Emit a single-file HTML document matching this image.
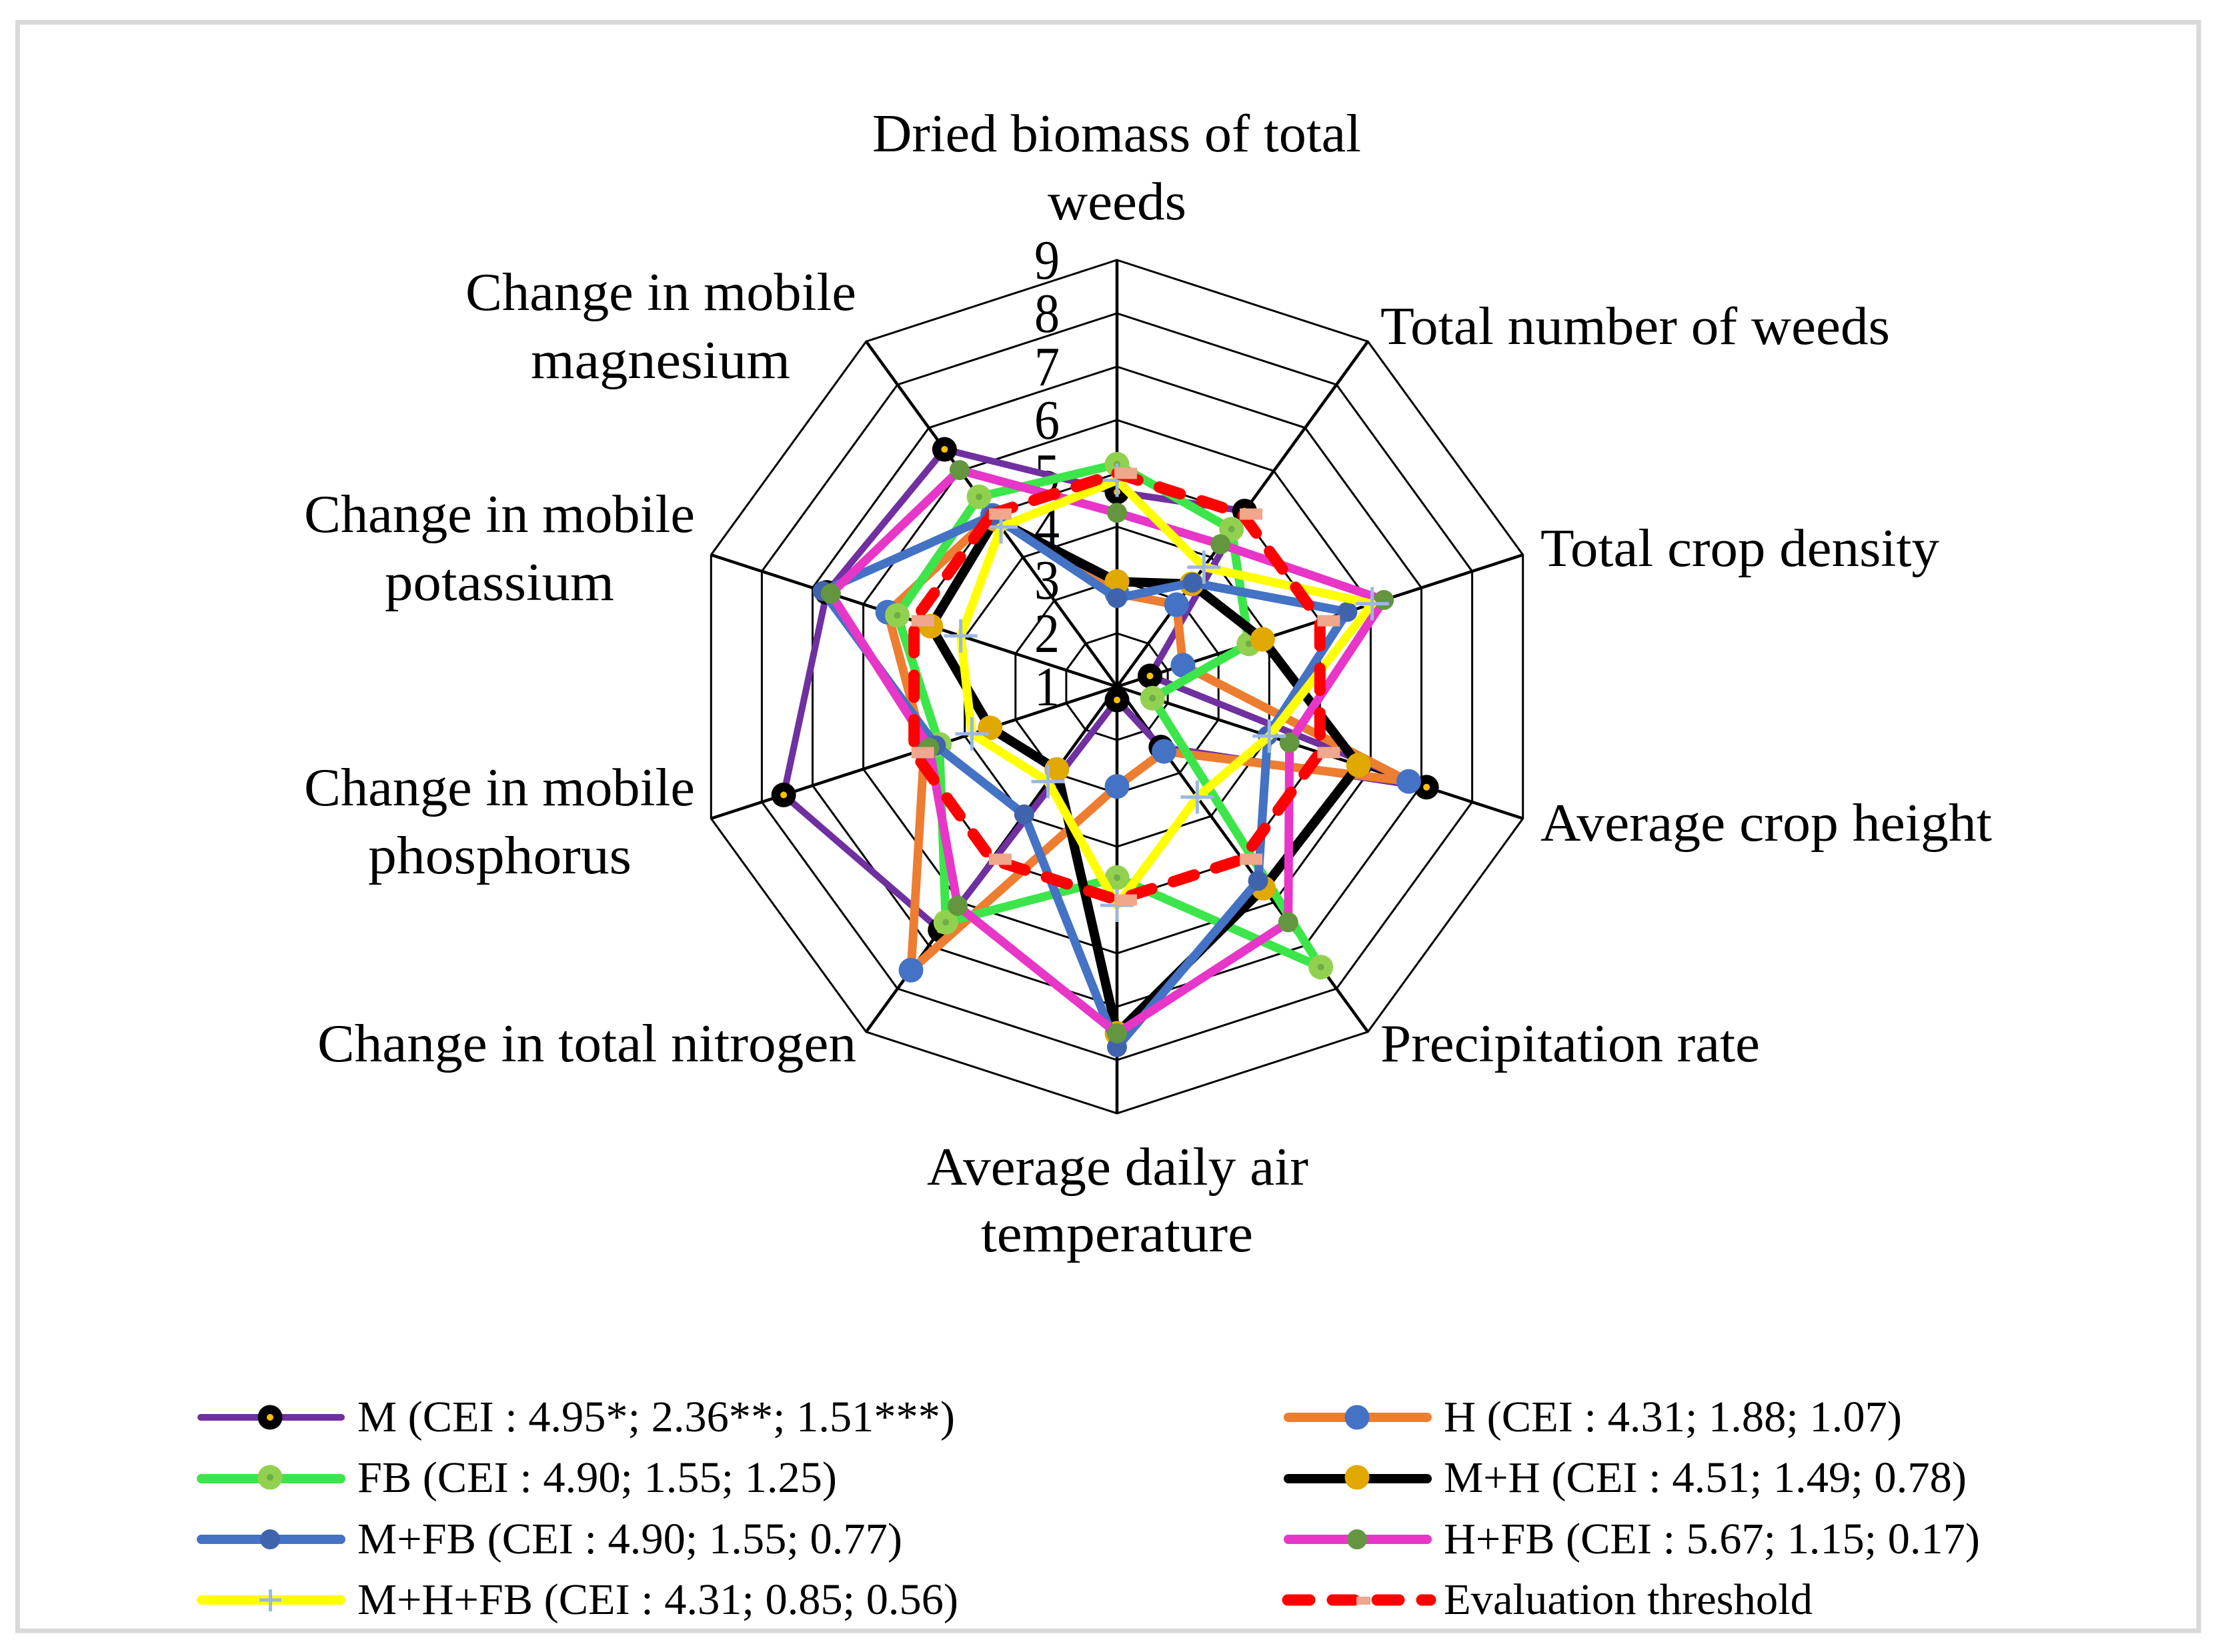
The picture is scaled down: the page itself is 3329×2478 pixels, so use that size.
<!DOCTYPE html>
<html lang="en">
<head>
<meta charset="utf-8">
<title>Radar chart of treatments</title>
<style>
html,body{margin:0;padding:0;background:#fff;}
svg{display:block;}
text{font-family:"Liberation Serif",serif;fill:#000;}
.cat{font-size:80px;}
.tick{font-size:84px;}
.leg{font-size:66px;}
.ring{fill:none;stroke:#000;stroke-width:3;stroke-linejoin:miter;}
.spoke{stroke:#000;stroke-width:4.5;}
.ln{fill:none;stroke-linejoin:round;stroke-linecap:round;stroke-width:13;}
.s-m{stroke:#7030A0;stroke-width:10;}
.s-h{stroke:#ED7D31;}
.s-fb{stroke:#3CE64A;}
.s-mh{stroke:#000;stroke-width:14;}
.s-mfb{stroke:#4472C4;}
.s-hfb{stroke:#E736C8;}
.s-mhfb{stroke:#FFFF00;}
.s-thr{stroke:#FF0000;stroke-width:17;stroke-dasharray:33 33.7;}
</style>
</head>
<body>
<svg id="chart" xmlns="http://www.w3.org/2000/svg" width="3329" height="2478" viewBox="0 0 3329 2478">
<rect x="26.5" y="33.5" width="3270.5" height="2412.5" fill="#fff" stroke="#D9D9D9" stroke-width="7"/>
<g id="grid"></g>
<g id="ticks"></g>
<g id="series"></g>

<g>
<text class="cat" x="1308" y="227" textLength="733" lengthAdjust="spacingAndGlyphs">Dried biomass of total</text>
<text class="cat" x="1571" y="329" textLength="208" lengthAdjust="spacingAndGlyphs">weeds</text>
<text class="cat" x="2070" y="516" textLength="764" lengthAdjust="spacingAndGlyphs">Total number of weeds</text>
<text class="cat" x="2310" y="849" textLength="598" lengthAdjust="spacingAndGlyphs">Total crop density</text>
<text class="cat" x="2310" y="1261" textLength="677" lengthAdjust="spacingAndGlyphs">Average crop height</text>
<text class="cat" x="2070" y="1592" textLength="569" lengthAdjust="spacingAndGlyphs">Precipitation rate</text>
<text class="cat" x="1390" y="1777" textLength="572" lengthAdjust="spacingAndGlyphs">Average daily air</text>
<text class="cat" x="1471" y="1877" textLength="408" lengthAdjust="spacingAndGlyphs">temperature</text>
<text class="cat" x="476" y="1592" textLength="808" lengthAdjust="spacingAndGlyphs">Change in total nitrogen</text>
<text class="cat" x="456" y="1208" textLength="586" lengthAdjust="spacingAndGlyphs">Change in mobile</text>
<text class="cat" x="552" y="1310" textLength="395" lengthAdjust="spacingAndGlyphs">phosphorus</text>
<text class="cat" x="456" y="798" textLength="586" lengthAdjust="spacingAndGlyphs">Change in mobile</text>
<text class="cat" x="577" y="900" textLength="344" lengthAdjust="spacingAndGlyphs">potassium</text>
<text class="cat" x="698" y="465" textLength="586" lengthAdjust="spacingAndGlyphs">Change in mobile</text>
<text class="cat" x="796" y="567" textLength="389" lengthAdjust="spacingAndGlyphs">magnesium</text>
</g>

<g>
<g>
<line x1="301" y1="2126" x2="512" y2="2126" stroke="#7030A0" stroke-width="10" stroke-linecap="round"/>
<circle cx="405" cy="2126" r="18.5" fill="#000"/><circle cx="405" cy="2126" r="5" fill="#FFC000"/>
<text class="leg" x="536" y="2147" textLength="896" lengthAdjust="spacingAndGlyphs">M (CEI : 4.95*; 2.36**; 1.51***)</text>
</g>
<g>
<line x1="302" y1="2218" x2="511" y2="2218" stroke="#3CE64A" stroke-width="14" stroke-linecap="round"/>
<circle cx="405" cy="2216" r="18.5" fill="#92D050"/><circle cx="405" cy="2216" r="5" fill="#70AD47"/>
<text class="leg" x="536" y="2238" textLength="719" lengthAdjust="spacingAndGlyphs">FB (CEI : 4.90; 1.55; 1.25)</text>
</g>
<g>
<line x1="302" y1="2309" x2="511" y2="2309" stroke="#4472C4" stroke-width="14" stroke-linecap="round"/>
<circle cx="405" cy="2309" r="15" fill="#3F64AD"/>
<text class="leg" x="536" y="2330" textLength="817" lengthAdjust="spacingAndGlyphs">M+FB (CEI : 4.90; 1.55; 0.77)</text>
</g>
<g>
<line x1="302" y1="2400" x2="511" y2="2400" stroke="#FFFF00" stroke-width="14" stroke-linecap="round"/>
<path d="M389 2400H422M405.500 2384V2417" stroke="#9BB8DF" stroke-width="5" fill="none"/>
<text class="leg" x="536" y="2421" textLength="901" lengthAdjust="spacingAndGlyphs">M+H+FB (CEI : 4.31; 0.85; 0.56)</text>
</g>
<g>
<line x1="1932" y1="2126" x2="2140" y2="2126" stroke="#ED7D31" stroke-width="14" stroke-linecap="round"/>
<circle cx="2035" cy="2126" r="18.5" fill="#4472C4"/>
<text class="leg" x="2165" y="2147" textLength="687" lengthAdjust="spacingAndGlyphs">H (CEI : 4.31; 1.88; 1.07)</text>
</g>
<g>
<line x1="1932" y1="2218" x2="2140" y2="2218" stroke="#000" stroke-width="14" stroke-linecap="round"/>
<circle cx="2035" cy="2216" r="18.5" fill="#E0A800"/>
<text class="leg" x="2165" y="2238" textLength="784" lengthAdjust="spacingAndGlyphs">M+H (CEI : 4.51; 1.49; 0.78)</text>
</g>
<g>
<line x1="1932" y1="2309" x2="2140" y2="2309" stroke="#E736C8" stroke-width="14" stroke-linecap="round"/>
<circle cx="2035" cy="2309" r="15" fill="#63963F"/>
<text class="leg" x="2165" y="2330" textLength="804" lengthAdjust="spacingAndGlyphs">H+FB (CEI : 5.67; 1.15; 0.17)</text>
</g>
<g>
<line x1="1931" y1="2400" x2="2145" y2="2400" stroke="#FF0000" stroke-width="17" stroke-linecap="round" stroke-dasharray="33 34"/>
<rect x="2034" y="2395" width="21" height="12" fill="#F0A78B"/>
<text class="leg" x="2165" y="2421" textLength="553" lengthAdjust="spacingAndGlyphs">Evaluation threshold</text>
</g>
</g>
</svg>

<script>
var categories = ['Dried biomass of total weeds','Total number of weeds','Total crop density','Average crop height','Precipitation rate','Average daily air temperature','Change in total nitrogen','Change in mobile phosphorus','Change in mobile potassium','Change in mobile magnesium'];
var tickLabels = [1,2,3,4,5,6,7,8,9];
var valuesM    = [4.65,5.07,1.65,7.10,2.40,1.25,6.64,7.57,6.72,6.50];
var valuesH    = [2.75,2.90,2.30,6.75,2.50,2.87,7.57,4.80,5.52,4.97];
var valuesFB   = [5.17,4.65,3.60,1.70,7.50,4.58,6.46,4.50,5.33,5.40];
var valuesMH   = [2.97,3.38,3.87,5.76,5.67,7.50,2.92,3.50,4.67,4.88];
var valuesMFB  = [2.66,3.41,5.54,3.97,5.50,7.76,3.96,4.57,6.80,4.97];
var valuesHFB  = [4.26,4.30,6.26,4.40,6.46,7.50,6.08,4.70,6.64,6.02];
var valuesMHFB = [4.87,3.77,6.03,4.00,3.56,5.10,3.20,3.86,4.08,4.70];
var valuesThr  = [5,5,5,5,5,5,5,5,5,5];

var NS = 'http://www.w3.org/2000/svg';
var CX = 1675, CY = 1030, UNIT = 80, AXIS_MIN = 1;

function radius(v){ return (v - AXIS_MIN) * UNIT; }
function angle(i){ return i * 2 * Math.PI / categories.length; }
function px(i, v){ return CX + radius(v) * Math.sin(angle(i)); }
function py(i, v){ return CY - radius(v) * Math.cos(angle(i)); }
function make(tag, parent){
  var el = document.createElementNS(NS, tag);
  parent.appendChild(el);
  return el;
}
function pointsFor(values){
  return values.map(function(v, i){ return px(i, v).toFixed(1) + ',' + py(i, v).toFixed(1); }).join(' ');
}

var grid = document.getElementById('grid');
tickLabels.slice(1).forEach(function(t){
  var ring = make('polygon', grid);
  
  
  ring.setAttribute('class', 'ring');
  ring.setAttribute('points', pointsFor(categories.map(function(){ return t; })));
});
var axisMax = tickLabels[tickLabels.length - 1];
categories.forEach(function(c, i){
  var sp = make('line', grid);
  
  
  sp.setAttribute('class', 'spoke');
  sp.setAttribute('x1', CX);
  sp.setAttribute('y1', CY);
  sp.setAttribute('x2', px(i, axisMax));
  sp.setAttribute('y2', py(i, axisMax));
});

var tickGroup = document.getElementById('ticks');
tickLabels.forEach(function(t){
  var tx = make('text', tickGroup);
  
  
  tx.setAttribute('class', 'tick');
  tx.setAttribute('x', CX - 124);
  tx.setAttribute('y', py(0, t) + 28);
  tx.setAttribute('textLength', 38);
  tx.setAttribute('lengthAdjust', 'spacingAndGlyphs');
  tx.textContent = t;
});

var seriesGroup = document.getElementById('series');

function drawLine(values, cls, g){
  var line = make('polygon', g);
  
  
  line.setAttribute('class', 'ln ' + cls);
  line.setAttribute('points', pointsFor(values));
}
function drawOpenDashed(values, cls, g){
  var main = make('polyline', g);
  
  
  main.setAttribute('class', 'ln ' + cls);
  main.setAttribute('points', pointsFor(values));
  var last = values.length - 1;
  var close = make('line', g);
  
  
  close.setAttribute('class', 'ln ' + cls);
  close.setAttribute('x1', px(last, values[last]));
  close.setAttribute('y1', py(last, values[last]));
  close.setAttribute('x2', px(0, values[0]));
  close.setAttribute('y2', py(0, values[0]));
}
function drawDots(values, g, r, fill, innerFill){
  values.forEach(function(v, i){
    var c = make('circle', g);
    
    
    c.setAttribute('cx', px(i, v));
    c.setAttribute('cy', py(i, v));
    c.setAttribute('r', r);
    c.setAttribute('fill', fill);
    if (innerFill) {
      var d = make('circle', g);
      
      
      d.setAttribute('cx', px(i, v));
      d.setAttribute('cy', py(i, v));
      d.setAttribute('r', 5);
      d.setAttribute('fill', innerFill);
    }
  });
}
function drawPlus(values, g){
  values.forEach(function(v, i){
    var x = px(i, v), y = py(i, v);
    var p = make('path', g);
    
    
    p.setAttribute('d', 'M' + (x - 25) + ' ' + y + 'H' + (x + 25) + 'M' + x + ' ' + (y - 25) + 'V' + (y + 25));
    p.setAttribute('stroke', '#9BB8DF');
    p.setAttribute('stroke-width', 5);
    p.setAttribute('fill', 'none');
  });
}
function drawBars(values, g){
  values.forEach(function(v, i){
    var b = make('rect', g);
    
    
    b.setAttribute('x', px(i, v) - 4);
    b.setAttribute('y', py(i, v) - 8.5);
    b.setAttribute('width', 34);
    b.setAttribute('height', 17);
    b.setAttribute('fill', '#F0A78B');
  });
}
function group(name){
  var g = make('g', seriesGroup);
  
  
  return g;
}

var gM = group('series-m');
drawLine(valuesM, 's-m', gM);
drawDots(valuesM, gM, 18.5, '#000', '#FFC000');

var gH = group('series-h');
drawLine(valuesH, 's-h', gH);
drawDots(valuesH, gH, 18.5, '#4472C4');

var gFB = group('series-fb');
drawLine(valuesFB, 's-fb', gFB);
drawDots(valuesFB, gFB, 18.5, '#92D050', '#70AD47');

var gMH = group('series-m-h');
drawLine(valuesMH, 's-mh', gMH);
drawDots(valuesMH, gMH, 18.5, '#E0A800');

var gMFB = group('series-m-fb');
drawLine(valuesMFB, 's-mfb', gMFB);
drawDots(valuesMFB, gMFB, 15, '#3F64AD');

var gHFB = group('series-h-fb');
drawLine(valuesHFB, 's-hfb', gHFB);
drawDots(valuesHFB, gHFB, 15, '#63963F');

var gMHFB = group('series-m-h-fb');
drawLine(valuesMHFB, 's-mhfb', gMHFB);
drawPlus(valuesMHFB, gMHFB);

var gThr = group('series-threshold');
drawOpenDashed(valuesThr, 's-thr', gThr);
drawBars(valuesThr, gThr);
</script>
</body>
</html>
